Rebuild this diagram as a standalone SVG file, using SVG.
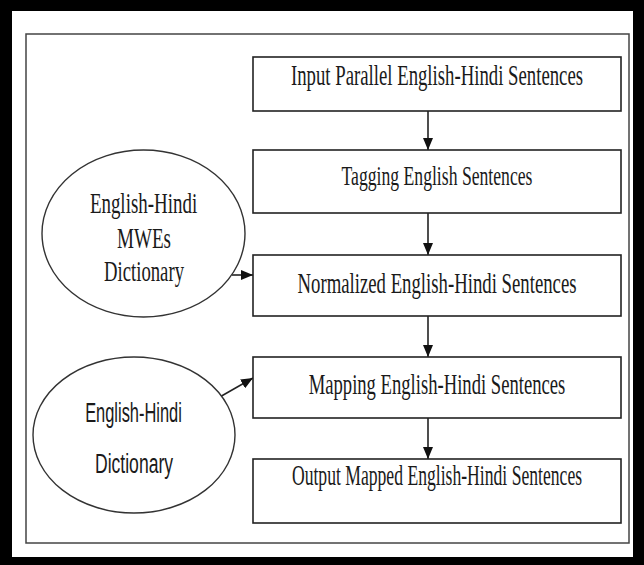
<svg xmlns="http://www.w3.org/2000/svg" width="644" height="565" viewBox="0 0 644 565">
<style>
.box{fill:#fff;stroke:#222;stroke-width:1.6}
.ell{fill:#fff;stroke:#333;stroke-width:1.4}
.st{font-family:"Liberation Serif","Times New Roman",serif;font-size:30px;fill:#1a1a1a;text-anchor:middle}
.ss{font-family:"Liberation Sans",Arial,sans-serif;font-size:27px;fill:#1a1a1a;text-anchor:middle}
.con{stroke:#222;stroke-width:1.6;fill:none;marker-end:url(#ah)}
</style>
<defs>
<marker id="ah" viewBox="0 0 12 10" refX="12" refY="5" markerWidth="12" markerHeight="10" markerUnits="userSpaceOnUse" orient="auto">
<path d="M0,0 L12,5 L0,10 Z" fill="#111"/>
</marker>
</defs>
<rect x="0" y="0" width="644" height="565" fill="#000"/>
<rect x="12" y="11" width="621" height="546" fill="#fff"/>
<rect x="26" y="34" width="603" height="509" fill="none" stroke="#444" stroke-width="1.5"/>
<g id="connectors">
<line class="con" x1="428" y1="111" x2="428" y2="150"/>
<line class="con" x1="428" y1="213" x2="428" y2="255"/>
<line class="con" x1="428" y1="316" x2="428" y2="357"/>
<line class="con" x1="428" y1="418" x2="428" y2="459"/>
<line class="con" x1="232" y1="275" x2="253" y2="275"/>
<line class="con" x1="218" y1="398" x2="253" y2="378"/>
</g>
<g id="n1">
<rect class="box" x="253" y="57" width="368" height="54"/>
<text class="st" transform="translate(437,85) scale(0.62,1)" textLength="471" lengthAdjust="spacingAndGlyphs">Input Parallel English-Hindi Sentences</text>
</g>
<g id="n2">
<rect class="box" x="253" y="150" width="368" height="63"/>
<text class="st" transform="translate(437,185) scale(0.62,1)" style="font-size:27px" textLength="308" lengthAdjust="spacingAndGlyphs">Tagging English Sentences</text>
</g>
<g id="n3">
<rect class="box" x="253" y="255" width="368" height="61"/>
<text class="st" transform="translate(437,293) scale(0.62,1)" textLength="450" lengthAdjust="spacingAndGlyphs">Normalized English-Hindi Sentences</text>
</g>
<g id="n4">
<rect class="box" x="253" y="357" width="368" height="61"/>
<text class="st" transform="translate(437,394) scale(0.62,1)" textLength="414" lengthAdjust="spacingAndGlyphs">Mapping English-Hindi Sentences</text>
</g>
<g id="n5">
<rect class="box" x="253" y="459" width="368" height="64"/>
<text class="st" transform="translate(437,485) scale(0.62,1)" textLength="468" lengthAdjust="spacingAndGlyphs">Output Mapped English-Hindi Sentences</text>
</g>
<g id="e1">
<ellipse class="ell" cx="143.5" cy="233.5" rx="101.5" ry="83.5"/>
<text class="st" transform="translate(143.5,213) scale(0.62,1)" textLength="173" lengthAdjust="spacingAndGlyphs">English-Hindi</text>
<text class="st" transform="translate(144,248) scale(0.62,1)" textLength="87" lengthAdjust="spacingAndGlyphs">MWEs</text>
<text class="st" transform="translate(144,281) scale(0.62,1)" textLength="129" lengthAdjust="spacingAndGlyphs">Dictionary</text>
</g>
<g id="e2">
<ellipse class="ell" cx="134" cy="435" rx="101" ry="78"/>
<text class="ss" transform="translate(133.5,422) scale(0.62,1)" textLength="156" lengthAdjust="spacingAndGlyphs">English-Hindi</text>
<text class="ss" transform="translate(134,473) scale(0.62,1)" textLength="126" lengthAdjust="spacingAndGlyphs">Dictionary</text>
</g>
</svg>
